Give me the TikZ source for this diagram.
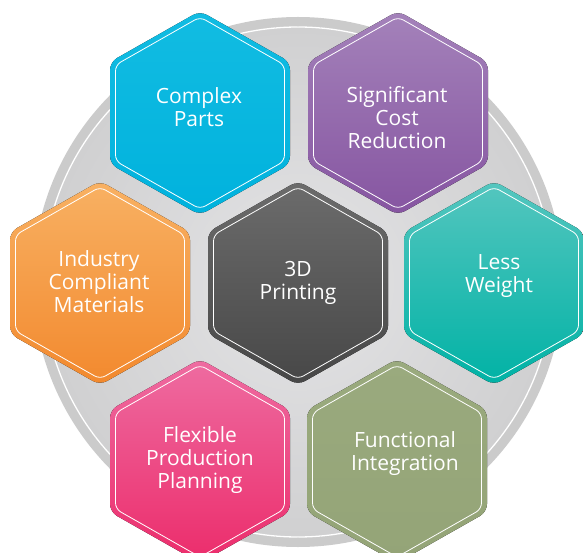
\documentclass[tikz,border=0pt]{standalone}
\usepackage{fontspec}
\setmainfont{Open Sans}
\usepackage{tikz}
\usetikzlibrary{positioning}

\definecolor{ringgray}{HTML}{CBCBCB}
\definecolor{discin}{HTML}{E4E4E6}
\definecolor{discout}{HTML}{D0D0D1}
\definecolor{cyantop}{HTML}{12BCE2}
\definecolor{cyanbot}{HTML}{00B2DD}
\definecolor{purpletop}{HTML}{A482BA}
\definecolor{purplebot}{HTML}{8655A1}
\definecolor{tealtop}{HTML}{55C6BF}
\definecolor{tealbot}{HTML}{00B2A5}
\definecolor{orangetop}{HTML}{F8B163}
\definecolor{orangebot}{HTML}{F2892E}
\definecolor{darktop}{HTML}{6C6C6C}
\definecolor{darkbot}{HTML}{474747}
\definecolor{pinktop}{HTML}{EE6CA1}
\definecolor{pinkbot}{HTML}{EC2C6B}
\definecolor{olivetop}{HTML}{9AAA7E}
\definecolor{olivebot}{HTML}{94A477}

\tikzset{
  celltext/.style={text=white, align=center, inner sep=0pt,
    font=\fontsize{21}{23}\selectfont},
}

% one rounded hexagon cell: centre, top colour, bottom colour
\newcommand{\hexcell}[3]{%
  \fill[rounded corners=8pt, top color=#2, bottom color=#3]
    (#1) +(0,102) -- +(90,51) -- +(90,-51) -- +(0,-102)
      -- +(-90,-51) -- +(-90,51) -- cycle;
  \draw[white, line width=0.8pt, rounded corners=6pt]
    (#1) +(0,96) -- +(84.5,48) -- +(84.5,-48) -- +(0,-96)
      -- +(-84.5,-48) -- +(-84.5,48) -- cycle;
}

\begin{document}
\begin{tikzpicture}[x=1pt, y=1pt]

  \fill[white] (0,0) rectangle (583,552);
  \useasboundingbox (0,0) rectangle (583,552);

  \fill[ringgray] (298,270) circle (265);
  \fill[inner color=discin, outer color=discout] (298,270) circle (255);
  \draw[white, line width=1.3pt] (298,270) circle (255);

  \coordinate (c-parts)  at (200,439);
  \coordinate (c-cost)   at (398,439);
  \coordinate (c-mater)  at (100,269);
  \coordinate (c-print)  at (298,269);
  \coordinate (c-weight) at (494,269);
  \coordinate (c-plan)   at (200,91);
  \coordinate (c-integ)  at (397,91);

  \hexcell{c-parts}{cyantop}{cyanbot}
  \hexcell{c-cost}{purpletop}{purplebot}
  \hexcell{c-mater}{orangetop}{orangebot}
  \hexcell{c-print}{darktop}{darkbot}
  \hexcell{c-weight}{tealtop}{tealbot}
  \hexcell{c-plan}{pinktop}{pinkbot}
  \hexcell{c-integ}{olivetop}{olivebot}

  \node[celltext] (parts)  at (199,445) {Complex\\Parts};
  \node[celltext] (cost)   at (397,434) {Significant\\Cost\\Reduction};
  \node[celltext] (mater)  at (99,270)  {Industry\\Compliant\\Materials};
  \node[celltext] (print)  at (298,269) {3D\\Printing};
  \node[celltext] (weight) at (499,276) {Less\\Weight};
  \node[celltext] (plan)   at (200,92)  {Flexible\\Production\\Planning};
  \node[celltext] (integ)  at (405,98)  {Functional\\Integration};

\end{tikzpicture}
\end{document}
